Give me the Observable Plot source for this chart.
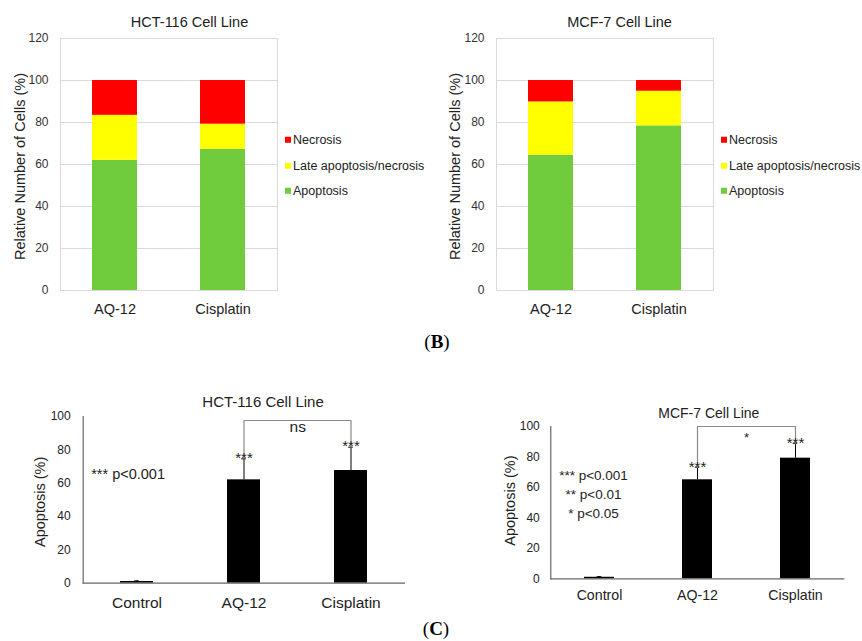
<!DOCTYPE html>
<html>
<head>
<meta charset="utf-8">
<script src="https://cdn.jsdelivr.net/npm/d3@7"></script>
<script src="https://cdn.jsdelivr.net/npm/@observablehq/plot@0.6"></script>
<style>
  html, body { margin: 0; padding: 0; background: #fff; }
  #root { position: relative; width: 862px; height: 641px; overflow: hidden; background: #fff;
          font-family: "Liberation Sans", Arial, sans-serif; }
  .panel { position: absolute; }
  .panel svg { display: block; }
  .lab { position: absolute; font-family: "Liberation Serif", "Times New Roman", serif; font-size: 19px;
         transform: translate(-50%, -50%); white-space: nowrap; color: #000; line-height: 1; }
  .legend { position: absolute; font-size: 12.5px; color: #222; }
  .legend .item { position: absolute; left: 0; white-space: nowrap; transform: translateY(-50%); line-height: 1; }
  .legend .sw { display: inline-block; width: 6px; height: 6px; margin-right: 2px; vertical-align: 1px; }
</style>
</head>
<body>
<div id="root"></div>
<script>
// ---------- data ----------
const treatments = ["AQ-12", "Cisplatin"];
const stages = ["Apoptosis", "Late apoptosis/necrosis", "Necrosis"];
const stageColors = ["#70cc3c", "#ffff00", "#ff0000"];
const legendOrder = ["Necrosis", "Late apoptosis/necrosis", "Apoptosis"];

const hctApoptosis = [62.0, 67.2];
const hctLate = [21.4, 12.0];
const hctNecrosis = [16.6, 20.8];

const mcfApoptosis = [64.4, 78.4];
const mcfLate = [25.4, 16.5];
const mcfNecrosis = [10.2, 5.1];

const stackTicks = [0, 20, 40, 60, 80, 100, 120];

const groups = ["Control", "AQ-12", "Cisplatin"];
const hctMean = [1.0, 62.0, 67.6];
const hctErr = [0.4, 12.6, 14.0];
const hctStars = ["", "***", "***"];
const hctPair = ["AQ-12", "Cisplatin"];
const hctBracketTop = 97.6;
const hctBracketLabel = "ns";
const hctPText = "*** p<0.001";

const mcfMean = [1.0, 65.0, 79.2];
const mcfErr = [0.4, 8.3, 9.8];
const mcfStars = ["", "***", "***"];
const mcfPair = ["AQ-12", "Cisplatin"];
const mcfBracketTop = 100;
const mcfBracketLabel = "*";
const mcfPText = "*** p<0.001\n** p<0.01\n* p<0.05";

const apoTicks = [0, 20, 40, 60, 80, 100];

const FONT = '"Liberation Sans", Arial, sans-serif';
const root = document.getElementById("root");

function place(node, left, top) {
  const d = document.createElement("div");
  d.className = "panel";
  d.style.left = left + "px";
  d.style.top = top + "px";
  d.appendChild(node);
  root.appendChild(d);
}

function stackedPanel(cfg) {
  const rows = [];
  treatments.forEach((t, i) => {
    [cfg.apo[i], cfg.late[i], cfg.nec[i]].forEach((v, j) =>
      rows.push({treatment: t, stage: stages[j], value: v}));
  });
  return Plot.plot({
    width: 431, height: 320,
    marginLeft: cfg.ml, marginRight: cfg.mr, marginTop: 38, marginBottom: 30,
    style: {fontFamily: FONT, background: "transparent", color: "#222", overflow: "visible"},
    x: {domain: treatments, paddingInner: 0.585, paddingOuter: 0.2925},
    y: {domain: [0, 120]},
    color: {domain: stages, range: stageColors},
    marks: [
      Plot.gridY(stackTicks, {stroke: "#d9d9d9", strokeOpacity: 1}),
      Plot.frame({stroke: "#d9d9d9", strokeOpacity: 1}),
      Plot.barY(rows, {x: "treatment", y: "value", fill: "stage"}),
      Plot.axisY(stackTicks, {tickSize: 0, tickPadding: 12, fontSize: 12, label: null, color: "#333"}),
      Plot.axisX({tickSize: 0, tickPadding: 13, fontSize: 14.5, label: null, color: "#222"}),
      Plot.text([cfg.title], {frameAnchor: "top", dx: cfg.titleDx, dy: -16.5, fontSize: 14.5, lineAnchor: "middle", fill: "#222"}),
      Plot.text(["Relative Number of Cells (%)"], {frameAnchor: "left", textAnchor: "middle", lineAnchor: "middle", rotate: -90, dx: cfg.ylabDx, dy: 2, fontSize: 14.5, fill: "#222"})
    ]
  });
}

function legend(left) {
  const lg = document.createElement("div");
  lg.className = "legend";
  lg.style.left = left + "px";
  lg.style.top = "0px";
  const tops = [140, 165.7, 190.7];
  legendOrder.forEach((s, k) => {
    const it = document.createElement("div");
    it.className = "item";
    it.style.top = tops[k] + "px";
    const sw = document.createElement("span");
    sw.className = "sw";
    sw.style.background = stageColors[stages.indexOf(s)];
    it.appendChild(sw);
    it.appendChild(document.createTextNode(s));
    lg.appendChild(it);
  });
  root.appendChild(lg);
}

function apoPanel(cfg) {
  const rows = groups.map((g, i) => ({group: g, mean: cfg.mean[i], top: cfg.mean[i] + cfg.err[i], star: cfg.stars[i]}));
  const topOf = g => rows.find(r => r.group === g).top;
  const bracket = [
    {group: cfg.pair[0], y: topOf(cfg.pair[0])},
    {group: cfg.pair[0], y: cfg.bracketTop},
    {group: cfg.pair[1], y: cfg.bracketTop},
    {group: cfg.pair[1], y: topOf(cfg.pair[1])}
  ];
  const W = 431, H = 230;
  const pin = 0.69;
  const step = (W - cfg.ml - cfg.mr) / groups.length;
  const bw = step * (1 - pin);
  const capInset = (bw - 5) / 2;
  return Plot.plot({
    width: W, height: H,
    marginLeft: cfg.ml, marginRight: cfg.mr, marginTop: cfg.mt, marginBottom: cfg.mb,
    style: {fontFamily: FONT, background: "transparent", color: "#222", overflow: "visible"},
    x: {domain: groups, paddingInner: pin, paddingOuter: pin / 2},
    y: {domain: [0, 100]},
    marks: [
      Plot.barY(rows, {x: "group", y: "mean", fill: "#000"}),
      Plot.ruleX(rows, {x: "group", y1: "mean", y2: "top", stroke: "#000", strokeWidth: 1}),
      Plot.tickY(rows, {x: "group", y: "top", insetLeft: capInset, insetRight: capInset, stroke: "#000", strokeWidth: 1}),
      Plot.ruleY([0], {stroke: "#666", strokeWidth: 1.2}),
      Plot.frame({anchor: "left", stroke: "#666", strokeWidth: 1.2}),
      Plot.line(bracket, {x: "group", y: "y", stroke: "#8a8a8a", strokeWidth: 1.2}),
      Plot.text(rows, {x: "group", y: "top", text: "star", lineAnchor: "bottom", dy: cfg.starDy, fontSize: 15, fill: "#222"}),
      Plot.text([cfg.bracketLabel], {x: [cfg.pair[0]], y: [cfg.bracketTop], dx: step / 2, dy: cfg.labelDy, lineAnchor: "middle", fontSize: cfg.labelSize, fill: "#222"}),
      Plot.axisY(apoTicks, {tickSize: 0, tickPadding: cfg.yPad, fontSize: 12, label: null, color: "#222"}),
      Plot.axisX({tickSize: 0, tickPadding: cfg.xPad, fontSize: cfg.xSize, label: null, color: "#222"}),
      Plot.text([cfg.title], {frameAnchor: "top", dx: cfg.titleDx, dy: cfg.titleDy, fontSize: cfg.titleSize, lineAnchor: "middle", fill: "#222"}),
      Plot.text(["Apoptosis (%)"], {frameAnchor: "left", textAnchor: "middle", lineAnchor: "middle", rotate: -90, dx: cfg.ylabDx, dy: cfg.ylabDy, fontSize: 14.5, fill: "#222"}),
      Plot.text([cfg.pText], {frameAnchor: "top-left", textAnchor: cfg.pAnchor, dx: cfg.pDx, dy: cfg.pDy, lineAnchor: "middle", lineHeight: 1.4, fontSize: cfg.pSize, fill: "#222"})
    ]
  });
}

// ---------- panels ----------
place(stackedPanel({title: "HCT-116 Cell Line", apo: hctApoptosis, late: hctLate, nec: hctNecrosis,
  ml: 60, mr: 154, titleDx: 20.5, ylabDx: -40}), 0, 0);
legend(285);

place(stackedPanel({title: "MCF-7 Cell Line", apo: mcfApoptosis, late: mcfLate, nec: mcfNecrosis,
  ml: 65, mr: 149, titleDx: 14.5, ylabDx: -41}), 431, 0);
legend(721);

place(apoPanel({title: "HCT-116 Cell Line", mean: hctMean, err: hctErr, stars: hctStars,
  pair: hctPair, bracketTop: hctBracketTop, bracketLabel: hctBracketLabel, pText: hctPText,
  ml: 82.7, mr: 26, mt: 36, mb: 27.3,
  starDy: 4, labelDy: 7, labelSize: 15.5, yPad: 12.5, xPad: 13.5, xSize: 15.5,
  titleDx: 18.7, titleDy: -14.3, titleSize: 15, ylabDx: -42.7, ylabDy: 2,
  pAnchor: "start", pDx: 8, pDy: 55.7, pSize: 14.5}), 0, 380);

place(apoPanel({title: "MCF-7 Cell Line", mean: mcfMean, err: mcfErr, stars: mcfStars,
  pair: mcfPair, bracketTop: mcfBracketTop, bracketLabel: mcfBracketLabel, pText: mcfPText,
  ml: 119.3, mr: 17.7, mt: 46, mb: 31.7,
  starDy: 5, labelDy: 11, labelSize: 13, yPad: 11, xPad: 11.6, xSize: 14.2,
  titleDx: 11, titleDy: -13, titleSize: 14, ylabDx: -40, ylabDy: -2,
  pAnchor: "middle", pDx: 42.7, pDy: 66.3, pSize: 13.5}), 431, 380);

// ---------- panel letters ----------
const lb = document.createElement("div");
lb.className = "lab"; lb.style.left = "437px"; lb.style.top = "341px";
lb.innerHTML = "(<b>B</b>)";
root.appendChild(lb);
const lc = document.createElement("div");
lc.className = "lab"; lc.style.left = "436px"; lc.style.top = "628px";
lc.innerHTML = "(<b>C</b>)";
root.appendChild(lc);
</script>
</body>
</html>
